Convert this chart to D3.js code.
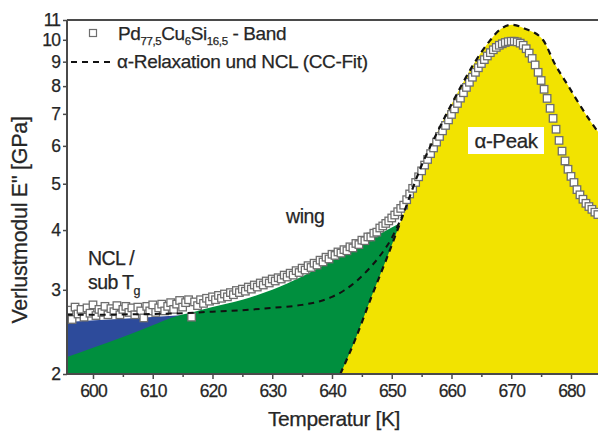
<!DOCTYPE html>
<html><head><meta charset="utf-8">
<script src="https://cdn.jsdelivr.net/npm/d3@7"></script>
<style>
html,body{margin:0;padding:0;background:#fff;}
svg{display:block;font-family:"Liberation Sans",Arial,sans-serif;}
</style></head>
<body><svg id="c" width="598" height="432"></svg>
<script>
// ---- data ----
const tempK = [596,596.5,597,597.5,598,598.5,599,599.5,600,600.5,601,601.5,602,602.5,603,603.5,604,604.5,605,605.5,606,606.5,607,607.5,608,608.5,609,609.5,610,610.5,611,611.5,612,612.5,613,613.5,614,614.5,615,615.5,616,616.5,617,617.5,618,618.5,619,619.5,620,620.5,621,621.5,622,622.5,623,623.5,624,624.5,625,625.5,626,626.5,627,627.5,628,628.5,629,629.5,630,630.5,631,631.5,632,632.5,633,633.5,634,634.5,635,635.5,636,636.5,637,637.5,638,638.5,639,639.5,640,640.5,641,641.5,642,642.5,643,643.5,644,644.5,645,645.5,646,646.5,647,647.5,648,648.5,649,649.5,650,650.5,651,651.5,652,652.5,653,653.5,654,654.5,655,655.5,656,656.5,657,657.5,658,658.5,659,659.5,660,660.5,661,661.5,662,662.5,663,663.5,664,664.5,665,665.5,666,666.5,667,667.5,668,668.5,669,669.5,670,670.5,671,671.5,672,672.5,673,673.5,674,674.5,675,675.5,676,676.5,677,677.5,678,678.5,679,679.5,680,680.5,681,681.5,682,682.5,683,683.5,684,684.5];
const lossModulus = [2.72,2.60,2.76,2.67,2.73,2.63,2.75,2.68,2.79,2.65,2.73,2.69,2.77,2.66,2.74,2.70,2.78,2.66,2.73,2.77,2.69,2.75,2.66,2.76,2.71,2.62,2.77,2.71,2.79,2.69,2.75,2.80,2.71,2.77,2.82,2.73,2.80,2.85,2.76,2.82,2.86,2.63,2.83,2.78,2.86,2.81,2.88,2.84,2.90,2.86,2.92,2.88,2.94,2.90,2.96,2.93,2.99,2.96,3.01,2.98,3.04,3.01,3.07,3.04,3.10,3.07,3.13,3.10,3.16,3.13,3.18,3.16,3.22,3.19,3.25,3.22,3.29,3.26,3.33,3.30,3.37,3.34,3.41,3.38,3.46,3.43,3.51,3.48,3.56,3.54,3.60,3.58,3.64,3.62,3.69,3.67,3.75,3.73,3.81,3.80,3.87,3.87,3.94,3.96,4.04,4.08,4.13,4.18,4.24,4.30,4.37,4.44,4.51,4.63,4.76,4.89,5.03,5.17,5.32,5.47,5.62,5.78,5.94,6.11,6.28,6.45,6.62,6.80,6.98,7.17,7.36,7.55,7.75,7.95,8.15,8.35,8.55,8.74,8.92,9.09,9.25,9.40,9.53,9.64,9.74,9.81,9.87,9.91,9.93,9.93,9.90,9.84,9.74,9.58,9.38,9.14,8.86,8.55,8.22,7.88,7.54,7.19,6.85,6.50,6.16,5.85,5.58,5.36,5.18,5.03,4.86,4.74,4.64,4.55,4.48,4.42,4.36,4.31];

// CC-fit: total (alpha + NCL) dashed curve
const fitT = [595.6,600,605,610,615,620,625,630,635,638,640,642,644,646,648,650,651.8];
const fitE = [2.66,2.66,2.665,2.67,2.68,2.70,2.72,2.75,2.79,2.84,2.90,2.99,3.12,3.30,3.53,3.85,4.30];
// alpha peak contribution (yellow)
const alphaT = [641.4,644,646.6,649,651.8,654.7,658,660.9,663.6,666.4,668.1,670.1,672.3,675.3,677.3,679.3,681.5,683.1,685];
const alphaE = [2.0,2.38,2.9,3.45,4.27,5.35,6.55,7.7,8.85,9.95,10.5,10.75,10.55,10.0,8.9,8.1,7.3,6.8,6.3];
// wing contribution (green)
const wingT = [595.6,600,605,610,613,617,620,625,630,635,640,645,650,653,656];
const wingE = [2.17,2.27,2.39,2.53,2.62,2.70,2.76,2.86,3.00,3.20,3.45,3.75,4.05,4.25,4.5];
// NCL contribution (blue)
const nclT = [595.6,605,612,620,630];
const nclE = [2.57,2.61,2.64,2.68,2.72];

const xMajor = [600,610,620,630,640,650,660,670,680];
const xMinor = [605,615,625,635,645,655,665,675,685];
const yTicks = [2,3,4,5,6,7,8,9,10,11];

// ---- layout ----
const svg = d3.select("#c");
const L = 67, T = 20, B = 374, R = 598;
const x = d3.scaleLinear().domain([595.6, 685]).range([66.7, 66.7 + 89.4*5.975]);
const y = d3.scaleLog().domain([2, 11]).range([B, T]);

svg.append("defs").append("clipPath").attr("id","clip")
  .append("rect").attr("x",L).attr("y",T).attr("width",R-L).attr("height",B-T);
const plot = svg.append("g").attr("clip-path","url(#clip)");

function areaOf(ts, es, color){
  const pts = ts.map((t,i)=>[t,es[i]]);
  plot.append("path").datum(pts)
    .attr("fill",color)
    .attr("d", d3.area().x(d=>x(d[0])).y0(B).y1(d=>y(d[1])).curve(d3.curveMonotoneX));
}
areaOf(nclT, nclE, "#2d4b9b");
areaOf(wingT, wingE, "#008f3e");
areaOf(alphaT, alphaE, "#f2e300");

// data squares
const sq = 7.5;
plot.append("g").selectAll("rect").data(tempK.map((t,i)=>[t,lossModulus[i]]))
  .join("rect")
  .attr("x", d=>x(d[0])-sq/2).attr("y", d=>y(d[1])-sq/2)
  .attr("width", sq).attr("height", sq)
  .attr("fill","#fff").attr("stroke","#6e6e6e").attr("stroke-width",1.3);

// dashed fit lines
const line = d3.line().x(d=>x(d[0])).y(d=>y(d[1])).curve(d3.curveMonotoneX);
plot.append("path").datum(alphaT.map((t,i)=>[t,alphaE[i]]))
  .attr("fill","none").attr("stroke","#111").attr("stroke-width",2.2)
  .attr("stroke-dasharray","6,5").attr("d", line);
plot.append("path").datum(fitT.map((t,i)=>[t,fitE[i]]))
  .attr("fill","none").attr("stroke","#111").attr("stroke-width",2)
  .attr("stroke-dasharray","6,5").attr("d", line);

// axes
const axisColor = "#4a4a4a";
const gx = svg.append("g").attr("transform",`translate(0,${B})`)
  .call(d3.axisBottom(x).tickValues(xMajor).tickSize(5).tickPadding(6).tickFormat(d3.format("d")));
svg.append("g").attr("transform",`translate(0,${B})`)
  .call(d3.axisBottom(x).tickValues(xMinor).tickSize(3).tickFormat(""))
  .select(".domain").remove();
const gy = svg.append("g").attr("transform",`translate(${L},0)`)
  .call(d3.axisLeft(y).tickValues(yTicks).tickSize(4).tickPadding(3).tickFormat(d3.format("d")));
svg.selectAll(".domain").attr("stroke",axisColor).attr("stroke-width",2);
svg.selectAll(".tick line").attr("stroke",axisColor).attr("stroke-width",1.5);
svg.selectAll(".tick text").attr("fill","#262626").attr("font-size",17.5)
  .attr("letter-spacing","-0.9px").attr("stroke","#262626").attr("stroke-width",0.25)
  .attr("font-family","Liberation Sans, Arial, sans-serif");
gx.selectAll(".domain").attr("d",`M${L},0H${R}`);
gy.selectAll(".domain").attr("d",`M0,${B}V${T}`);
// top frame
svg.append("line").attr("x1",L).attr("x2",R).attr("y1",T).attr("y2",T)
  .attr("stroke",axisColor).attr("stroke-width",2.2);

const txt = (sel)=>sel.attr("fill","#262626").attr("stroke","#262626").attr("stroke-width",0.25);

// axis titles
txt(svg.append("text").attr("x",334).attr("y",426).attr("text-anchor","middle")
  .attr("font-size",21).attr("letter-spacing","-0.4px").text("Temperatur [K]"));
txt(svg.append("text").attr("transform","translate(27,220) rotate(-90)").attr("text-anchor","middle")
  .attr("font-size",21.5).attr("letter-spacing","-0.3px").text("Verlustmodul E'' [GPa]"));

// legend
svg.append("rect").attr("x",93-3.5).attr("y",33-3.5).attr("width",7).attr("height",7)
  .attr("fill","#fff").attr("stroke","#6e6e6e").attr("stroke-width",1.2);
const lg1 = txt(svg.append("text").attr("x",118).attr("y",40).attr("font-size",19)
  .attr("letter-spacing","-0.4px"));
lg1.append("tspan").text("Pd");
lg1.append("tspan").attr("font-size",11.5).attr("dy",5).text("77,5");
lg1.append("tspan").attr("dy",-5).text("Cu");
lg1.append("tspan").attr("font-size",11.5).attr("dy",5).text("6");
lg1.append("tspan").attr("dy",-5).text("Si");
lg1.append("tspan").attr("font-size",11.5).attr("dy",5).text("16,5");
lg1.append("tspan").attr("dy",-5).text(" - Band");
svg.append("line").attr("x1",71).attr("x2",114).attr("y1",62).attr("y2",62)
  .attr("stroke","#111").attr("stroke-width",2).attr("stroke-dasharray","6,5");
txt(svg.append("text").attr("x",117).attr("y",68).attr("font-size",19)
  .attr("letter-spacing","-0.3px").text("α-Relaxation und NCL (CC-Fit)"));

// annotations
svg.append("rect").attr("x",468).attr("y",127).attr("width",76).attr("height",27).attr("fill","#fff");
txt(svg.append("text").attr("x",506).attr("y",148).attr("text-anchor","middle").attr("font-size",20.5)
  .attr("letter-spacing","-0.4px").text("α-Peak"));
txt(svg.append("text").attr("x",286).attr("y",223).attr("font-size",19.5)
  .attr("letter-spacing","-0.4px").text("wing"));
txt(svg.append("text").attr("x",88).attr("y",265).attr("font-size",19.5)
  .attr("letter-spacing","-0.6px").text("NCL /"));
const st = txt(svg.append("text").attr("x",88).attr("y",289).attr("font-size",19.5)
  .attr("letter-spacing","-0.6px"));
st.append("tspan").text("sub T");
st.append("tspan").attr("font-size",12.5).attr("dy",6).text("g");
</script></body></html>
